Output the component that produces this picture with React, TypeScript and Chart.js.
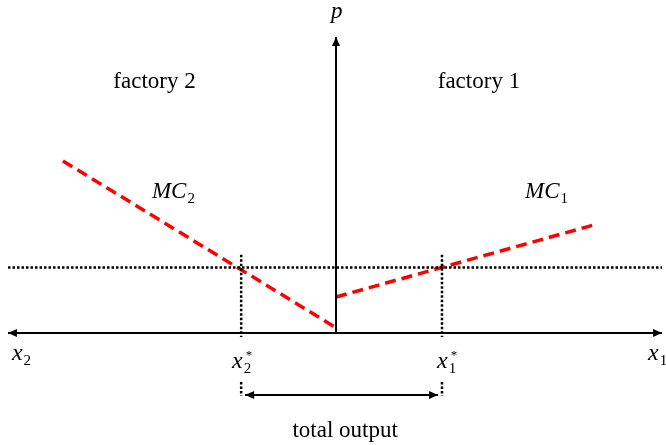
import React, { useEffect, useRef } from "react";
import { Chart, registerables } from "chart.js";

Chart.register(...registerables);

// ---- model values (diagram units) ----
const PRICE_LEVEL = 2;
const X_STAR_1 = 3.24;
const X_STAR_2 = -2.9;
const MC1_X = [0, 7.98];
const MC1_Y = [1.1, 3.33];
const MC2_X = [-8.35, -0.03];
const MC2_Y = [5.26, 0.18];
const X_AXIS_ENDS = [-10.03, 9.97];
const P_AXIS_TOP = 9.05;
const DOT_TOP = 2.39;
const DOT_BOTTOM = -0.12;
const BRACKET_LEVEL = -1.9;
const BRACKET_DOT = [-1.5, -1.93];

// ---- view window ----
const X_MIN = -10.275;
const X_MAX = 10.09;
const Y_MIN = -3.425;
const Y_MAX = 10.18;

type Lbl = {
  text: string;
  sub?: string;
  sup?: string;
  x: number;
  y: number;
  align: "left" | "center";
  italic: boolean;
  size: number;
  subSize?: number;
};

const LABELS: Lbl[] = [
  { text: "p", x: 0.02, y: 9.63, align: "center", italic: true, size: 23 },
  { text: "factory 2", x: -5.55, y: 7.49, align: "center", italic: false, size: 23 },
  { text: "factory 1", x: 4.37, y: 7.49, align: "center", italic: false, size: 23 },
  { text: "MC", sub: "2", x: -5.63, y: 4.13, align: "left", italic: true, size: 23, subSize: 15 },
  { text: "MC", sub: "1", x: 5.78, y: 4.13, align: "left", italic: true, size: 23, subSize: 15 },
  { text: "x", sub: "2", x: -9.91, y: -0.83, align: "left", italic: true, size: 24, subSize: 15 },
  { text: "x", sub: "1", x: 9.54, y: -0.83, align: "left", italic: true, size: 24, subSize: 15 },
  { text: "x", sub: "2", sup: "*", x: -3.18, y: -1.07, align: "left", italic: true, size: 24, subSize: 15 },
  { text: "x", sub: "1", sup: "*", x: 3.09, y: -1.07, align: "left", italic: true, size: 24, subSize: 15 },
  { text: "total output", x: 0.28, y: -3.18, align: "center", italic: false, size: 23 },
];

const FONT = "'Liberation Serif', 'Times New Roman', serif";

const seg = (xs: number[], ys: number[]) => xs.map((x, i) => ({ x, y: ys[i] }));

const arrowPlugin = {
  id: "arrowheads",
  afterDatasetsDraw(chart: any) {
    const ctx = chart.ctx;
    chart.data.datasets.forEach((ds: any, i: number) => {
      if (!ds.arrowStart && !ds.arrowEnd) return;
      const pts = chart.getDatasetMeta(i).data;
      const drawHead = (tip: any, from: any) => {
        const ang = Math.atan2(tip.y - from.y, tip.x - from.x);
        const len = 9;
        const half = 4;
        ctx.save();
        ctx.translate(tip.x, tip.y);
        ctx.rotate(ang);
        ctx.beginPath();
        ctx.moveTo(0, 0);
        ctx.lineTo(-len, -half);
        ctx.lineTo(-len, half);
        ctx.closePath();
        ctx.fillStyle = "#000";
        ctx.fill();
        ctx.restore();
      };
      if (ds.arrowStart) drawHead(pts[0], pts[1]);
      if (ds.arrowEnd) drawHead(pts[pts.length - 1], pts[pts.length - 2]);
    });
  },
};

const labelPlugin = {
  id: "labels",
  afterDraw(chart: any) {
    const ctx = chart.ctx;
    const xs = chart.scales.x;
    const ys = chart.scales.y;
    ctx.save();
    ctx.fillStyle = "#000";
    ctx.textBaseline = "alphabetic";
    LABELS.forEach((l) => {
      const px = xs.getPixelForValue(l.x);
      const py = ys.getPixelForValue(l.y);
      ctx.font = `${l.italic ? "italic " : ""}${l.size}px ${FONT}`;
      const w = ctx.measureText(l.text).width;
      const left = l.align === "center" ? px - w / 2 : px;
      ctx.textAlign = "left";
      ctx.fillText(l.text, left, py);
      if (l.sub) {
        ctx.font = `${l.subSize}px ${FONT}`;
        ctx.fillText(l.sub, left + w + 1, py + 5);
      }
      if (l.sup) {
        ctx.font = `13px ${FONT}`;
        ctx.fillText(l.sup, left + w + 3, py - 9);
      }
    });
    ctx.restore();
  },
};

const bgPlugin = {
  id: "bg",
  beforeDraw(chart: any) {
    const ctx = chart.ctx;
    ctx.save();
    ctx.fillStyle = "#fff";
    ctx.fillRect(0, 0, chart.width, chart.height);
    ctx.restore();
  },
};

export default function App() {
  const ref = useRef<HTMLCanvasElement | null>(null);

  useEffect(() => {
    if (!ref.current) return;
    const solid = { borderColor: "#000", borderWidth: 2, pointRadius: 0, showLine: true, fill: false };
    const dotted = { borderColor: "#000", borderWidth: 2.5, borderDash: [2.5, 2], pointRadius: 0, showLine: true, fill: false };
    const red = { borderColor: "#ff0000", borderWidth: 3.5, borderDash: [11, 6], pointRadius: 0, showLine: true, fill: false };

    const chart = new Chart(ref.current, {
      type: "scatter",
      data: {
        datasets: [
          { ...dotted, data: seg(X_AXIS_ENDS, [PRICE_LEVEL, PRICE_LEVEL]) },
          { ...dotted, data: seg([X_STAR_2, X_STAR_2], [DOT_TOP, DOT_BOTTOM]) },
          { ...dotted, data: seg([X_STAR_1, X_STAR_1], [DOT_TOP, DOT_BOTTOM]) },
          { ...dotted, data: seg([X_STAR_2, X_STAR_2], BRACKET_DOT) },
          { ...dotted, data: seg([X_STAR_1, X_STAR_1], BRACKET_DOT) },
          { ...solid, data: seg(X_AXIS_ENDS, [0, 0]), arrowStart: true, arrowEnd: true },
          { ...solid, data: seg([0, 0], [0, P_AXIS_TOP]), arrowEnd: true },
          { ...solid, data: seg([X_STAR_2 + 0.12, X_STAR_1 - 0.12], [BRACKET_LEVEL, BRACKET_LEVEL]), arrowStart: true, arrowEnd: true },
          { ...red, data: seg(MC2_X, MC2_Y) },
          { ...red, data: seg(MC1_X, MC1_Y) },
        ] as any,
      },
      options: {
        responsive: false,
        animation: false,
        devicePixelRatio: 1,
        layout: { padding: 0 },
        plugins: { legend: { display: false }, tooltip: { enabled: false } },
        events: [],
        scales: {
          x: { type: "linear", min: X_MIN, max: X_MAX, display: false },
          y: { type: "linear", min: Y_MIN, max: Y_MAX, display: false },
        },
      },
      plugins: [bgPlugin, arrowPlugin, labelPlugin],
    });
    return () => chart.destroy();
  }, []);

  return (
    <div style={{ position: "fixed", left: 0, top: 0, width: 666, height: 445, background: "#fff" }}>
      <canvas ref={ref} width={666} height={445} style={{ display: "block", width: 666, height: 445 }} />
    </div>
  );
}
